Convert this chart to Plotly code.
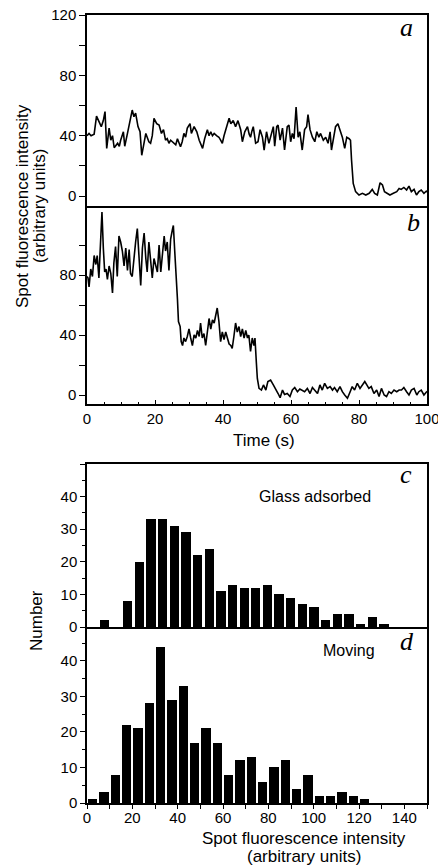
import plotly.graph_objects as go

# ---------------- data ----------------
# Panel a: single-step photobleaching trace
time_a = [0, 0.6, 1.2, 2.1, 2.8, 3.5, 4.2, 4.8, 5.3, 5.8, 6.5, 7.0, 7.5, 8.0, 8.5, 9.0, 9.5, 9.9,
          10.7, 11.1, 11.9, 12.4, 12.8, 13.3, 13.8, 14.3, 15.0, 15.6, 16.1, 16.6, 17.3, 17.7,
          18.2, 18.7, 19.2, 19.7, 20.5, 21.2, 21.9, 22.5, 23.1, 23.6, 24.1, 24.6, 25.1, 25.6,
          26.1, 26.6, 27.0, 27.5, 28.0, 28.5, 29.0, 29.5, 30.3, 30.7, 31.5, 32.3, 33.0, 33.5,
          34.0, 34.6, 35.4, 35.9, 36.4, 36.9, 37.4, 38.1, 38.8, 39.3, 39.8, 40.3, 40.8, 41.3,
          41.8, 42.3, 43.0, 43.7, 44.4, 45.2, 45.7, 46.4, 47.2, 47.7, 48.1, 48.5, 48.9, 49.6,
          50.3, 50.9, 51.6, 52.1, 52.8, 53.5, 54.2, 54.8, 55.2, 55.8, 56.2, 56.8, 57.5, 58.1,
          58.9, 59.4, 59.9, 60.4, 60.9, 61.5, 62.1, 62.6, 63.3, 64.0, 64.6, 65.0, 65.6, 66.3,
          67.0, 67.6, 68.2, 68.7, 69.5, 70.2, 70.9, 71.5, 71.9, 72.6, 73.1, 73.8, 74.4, 75.1,
          75.8, 76.4, 77.1, 77.5, 77.8, 78.3, 79.0, 79.5, 80.0, 81.0, 82.0, 83.0, 83.9, 84.6,
          85.4, 86.2, 86.9, 87.5, 88.3, 89.1, 90.1, 91.1, 91.8, 92.4, 93.2, 94.0, 94.7, 95.4,
          96.2, 96.9, 97.6, 98.3, 99.1, 99.9, 100]
intensity_a = [40, 41.5, 40, 41, 53, 50, 46, 50, 56, 31.6, 45, 37, 40, 32, 34, 35, 33, 37,
               42.6, 33, 41.5, 47, 50, 57, 52.6, 55, 46, 42.6, 27, 33, 41.5, 39,
               36, 35, 40, 51.5, 48, 47, 41.5, 44, 37, 38, 35, 37, 36, 35,
               34, 38, 35, 32.7, 36, 41.5, 39, 45, 48, 41.5, 46, 42.6, 37, 34,
               31.6, 38, 44, 40, 42.6, 40, 41.5, 40, 39, 37, 35, 40, 44, 47,
               51.5, 48, 50, 46, 50, 44, 36, 42.6, 46, 41, 39, 43, 46, 35,
               36, 44, 39, 30.5, 42.6, 35, 41.5, 46, 33, 46, 47, 37, 45, 30.5,
               46, 47, 36, 41.5, 38, 59, 39, 42.6, 30.5, 44, 46, 54, 44, 39,
               36, 42.6, 39, 41.5, 37, 39, 35, 42.6, 30.5, 41.5, 46, 48, 44, 39,
               31.6, 39, 38, 37, 24, 8.4, 2.9, 1.5, 0.7, 1.8, 0.7, 1.8, 4.4, 1.8,
               0.7, 8.8, 7.3, 2.9, 1.8, 0.7, 1.8, 2.9, 5, 4.4, 5.7, 4, 6.6, 2.9,
               4.4, 0.7, 2.9, 4, 1.8, 3.5, 2.5]

# Panel b: multi-step photobleaching trace
time_b = [0.0, 0.3, 0.6, 1.1, 1.6, 2.1, 2.6, 3.0, 3.5, 4.0, 4.4, 4.8, 5.2, 5.6, 6.0, 6.5, 7.0,
          7.5, 7.9, 8.4, 8.9, 9.4, 9.9, 10.4, 10.9, 11.4, 11.9, 12.4, 12.8, 13.3, 13.8, 14.3,
          14.8, 15.3, 15.8, 16.3, 16.8, 17.3, 17.7, 18.2, 18.7, 19.2, 19.7, 20.2, 20.7, 21.2,
          21.7, 22.2, 22.7, 23.1, 23.6, 24.1, 24.6, 25.1, 25.4, 25.8, 26.2, 26.6, 26.9, 27.4,
          27.7, 28.1, 28.5, 29.0, 29.5, 30.0, 30.5, 31.0, 31.5, 32.0, 32.5, 33.0, 33.4, 33.9,
          34.4, 34.9, 35.4, 35.9, 36.4, 36.9, 37.4, 37.8, 38.3, 38.8, 39.3, 39.8, 40.3, 40.8,
          41.3, 41.8, 42.3, 42.7, 43.2, 43.7, 44.2, 44.7, 45.2, 45.7, 46.2, 46.7, 47.2, 47.6,
          48.1, 48.6, 49.1, 49.4, 49.8, 50.1, 50.6, 51.3, 51.9, 52.6, 53.2, 54.0, 54.8, 55.5,
          56.2, 56.8, 57.5, 58.1, 58.9, 59.7, 60.4, 61.1, 61.9, 62.6, 63.3, 64.0, 64.8, 65.6,
          66.3, 67.0, 67.8, 68.5, 69.2, 69.9, 70.7, 71.5, 72.2, 72.8, 73.6, 74.4, 75.1, 75.8,
          76.6, 77.4, 78.0, 78.7, 79.5, 80.3, 81.0, 81.7, 82.3, 82.9, 83.6, 84.4, 85.2, 85.9,
          86.6, 87.4, 88.1, 88.8, 89.5, 90.3, 91.1, 91.8, 92.5, 93.2, 94.0, 94.7, 95.4, 96.2,
          97.0, 97.6, 98.3, 99.1, 99.9, 100]
intensity_b = [79, 78, 72, 84, 79, 93, 87, 93, 78, 104, 122, 98, 82, 84, 77, 86, 81,
               68, 88, 99, 79, 106, 102, 96, 86, 98, 83, 97, 81, 79, 93, 102,
               111, 93, 73, 98, 108, 91, 82, 102, 87, 78, 91, 87, 82, 100,
               82, 94, 106, 96, 102, 83, 104, 110, 113, 96, 82, 64, 49, 45.6,
               35.6, 33, 38, 35.6, 39, 44, 38, 33, 40, 38, 43, 39, 48, 38,
               41, 33, 42, 51, 44, 50, 48, 53, 58, 49, 35.6, 42, 37, 42,
               38, 34, 33, 31, 39, 48, 42, 45.6, 39, 44, 38, 43, 38, 40,
               29, 38, 33, 38, 22, 11, 4.4, 3.3, 6.7, 3.3, 9, 10, 6.7, 3.3,
               1, -1.8, 3.3, 0.4, 1, -1, 3.3, 5, 2.2, 4, 3.3, 2.2, 4.4, 1,
               5, 3.3, 1, 6.7, 3.3, 7.8, 4.4, 5.6, 3.3, 5, 2.2, 5.6, 2.2, 0,
               -2.2, 2.2, 5.6, 3.3, 7.8, 4.4, 6.7, 9, 6.7, 4.4, 5.6, 1, 3.3, -1,
               4.4, 0, -1, 2.2, 1, 3.3, 2.2, 3.3, 3.3, 5, 2.2, 0, 3.3, 4.4,
               0, 2.2, 3.3, 0, 2.2, 2.5]

# Histograms (bin centres, counts)
bin_centers = [2.5, 7.5, 12.5, 17.5, 22.5, 27.5, 32.5, 37.5, 42.5, 47.5, 52.5, 57.5, 62.5,
               67.5, 72.5, 77.5, 82.5, 87.5, 92.5, 97.5, 102.5, 107.5, 112.5, 117.5, 122.5, 127.5]
counts_glass = [0, 2, 0, 8, 20, 33, 33, 31, 29, 22, 24, 11, 13,
                12, 12, 13, 10, 9, 7, 6, 2, 4, 4, 1, 3, 1]
counts_moving = [1, 3, 8, 22, 21, 28, 44, 29, 33, 17, 21, 17, 8,
                 12, 13, 6, 10, 12, 4, 8, 2, 2, 3, 2, 1, 0]

trace_yticks_a = [0, 20, 40, 60, 80, 100, 120]
trace_ylabels_a = ["0", "", "40", "", "80", "", "120"]
trace_yticks_b = [0, 20, 40, 60, 80, 100]
trace_ylabels_b = ["0", "", "40", "", "80", ""]
time_ticks = [0, 20, 40, 60, 80, 100]
hist_yticks = [0, 10, 20, 30, 40, 50]
hist_ylabels = ["0", "10", "20", "30", "40", ""]
hist_xticks = [0, 10, 20, 30, 40, 50, 60, 70, 80, 90, 100, 110, 120, 130, 140, 150]
hist_xlabels = ["0", "", "20", "", "40", "", "60", "", "80", "", "100", "", "120", "", "140", ""]

# ---------------- figure ----------------
W, H = 438, 866
FONT = "Liberation Sans, Arial, Helvetica, sans-serif"
SERIF = "Liberation Serif, Times New Roman, serif"


def xp(px):
    return px / W


def yp(py):
    return 1 - py / H


xdom = [xp(87), xp(427)]

fig = go.Figure()
fig.add_trace(go.Scatter(x=time_a, y=intensity_a, mode="lines",
                         line=dict(color="black", width=1.6), xaxis="x", yaxis="y"))
fig.add_trace(go.Scatter(x=time_b, y=intensity_b, mode="lines",
                         line=dict(color="black", width=1.6), xaxis="x2", yaxis="y2"))
fig.add_trace(go.Bar(x=bin_centers, y=counts_glass, width=4, marker=dict(color="black", line=dict(width=0)),
                     xaxis="x3", yaxis="y3"))
fig.add_trace(go.Bar(x=bin_centers, y=counts_moving, width=4, marker=dict(color="black", line=dict(width=0)),
                     xaxis="x4", yaxis="y4"))

axis_common = dict(showline=True, linecolor="black", linewidth=1.5,
                   showgrid=False, zeroline=False, tickcolor="black", automargin=False,
                   ticklabeloverflow="allow",
                   tickfont=dict(family=FONT, size=15, color="black"))

fig.update_layout(
    template="none",
    width=W, height=H,
    margin=dict(l=0, r=0, t=0, b=0, pad=0),
    paper_bgcolor="white", plot_bgcolor="white",
    showlegend=False,
    bargap=0,
    xaxis=dict(domain=xdom, anchor="y", range=[0, 100], showticklabels=False, ticks="",
               mirror=True, **axis_common),
    yaxis=dict(domain=[yp(206), yp(15)], anchor="x", range=[-6.6, 120],
               tickmode="array", tickvals=trace_yticks_a, ticktext=trace_ylabels_a,
               ticks="outside", ticklen=6, mirror=True, **axis_common),
    xaxis2=dict(domain=xdom, anchor="y2", range=[0, 100], tickmode="array", tickvals=time_ticks,
                ticks="inside", ticklen=4, mirror=False,
                minor=dict(dtick=5, tick0=0, ticks="inside", ticklen=2, tickcolor="black"),
                **axis_common),
    yaxis2=dict(domain=[yp(404), yp(206)], anchor="x2", range=[-6, 126],
                tickmode="array", tickvals=trace_yticks_b, ticktext=trace_ylabels_b,
                ticks="outside", ticklen=6, mirror=True, **axis_common),
    xaxis3=dict(domain=xdom, anchor="y3", range=[0, 146], showticklabels=False, ticks="",
                mirror=True, **axis_common),
    yaxis3=dict(domain=[yp(627), yp(464)], anchor="x3", range=[0, 50],
                tickmode="array", tickvals=hist_yticks, ticktext=hist_ylabels,
                ticks="outside", ticklen=5, mirror=True,
                minor=dict(dtick=5, tick0=0, ticks="outside", ticklen=3, tickcolor="black"),
                **axis_common),
    xaxis4=dict(domain=xdom, anchor="y4", range=[0, 150], tickmode="array",
                tickvals=hist_xticks, ticktext=hist_xlabels, ticks="outside", ticklen=4,
                ticklabelstandoff=-4, mirror=False, **axis_common),
    yaxis4=dict(domain=[yp(803), yp(627)], anchor="x4", range=[0, 49.5],
                tickmode="array", tickvals=hist_yticks[:5], ticktext=hist_ylabels[:5],
                ticks="outside", ticklen=5, mirror=True,
                minor=dict(dtick=5, tick0=0, ticks="outside", ticklen=3, tickcolor="black"),
                **axis_common),
)

ann = []


def add_text(text, px, py, size, family=FONT, angle=0):
    ann.append(dict(text=text, x=xp(px), y=yp(py), xref="paper", yref="paper",
                    xanchor="center", yanchor="middle", showarrow=False, textangle=angle,
                    font=dict(family=family, size=size, color="black")))


add_text("<i>a</i>", 406, 28, 26, SERIF)
add_text("<i>b</i>", 413, 223, 26, SERIF)
add_text("<i>c</i>", 406, 474, 26, SERIF)
add_text("<i>d</i>", 407, 641, 26, SERIF)
add_text("Glass adsorbed", 315, 496, 16)
add_text("Moving", 349, 650, 16)
add_text("Spot fluorescence intensity", 23, 206, 17, angle=-90)
add_text("(arbitrary units)", 40, 206, 17, angle=-90)
add_text("Number", 36, 621, 17, angle=-90)
add_text("Time (s)", 264, 440, 17)
add_text("Spot fluorescence intensity", 304, 838, 17)
add_text("(arbitrary units)", 304, 856, 17)

fig.update_layout(annotations=ann)

fig.write_html("out.html", config={"displayModeBar": False},
               post_script="document.body.style.margin='0px';")
